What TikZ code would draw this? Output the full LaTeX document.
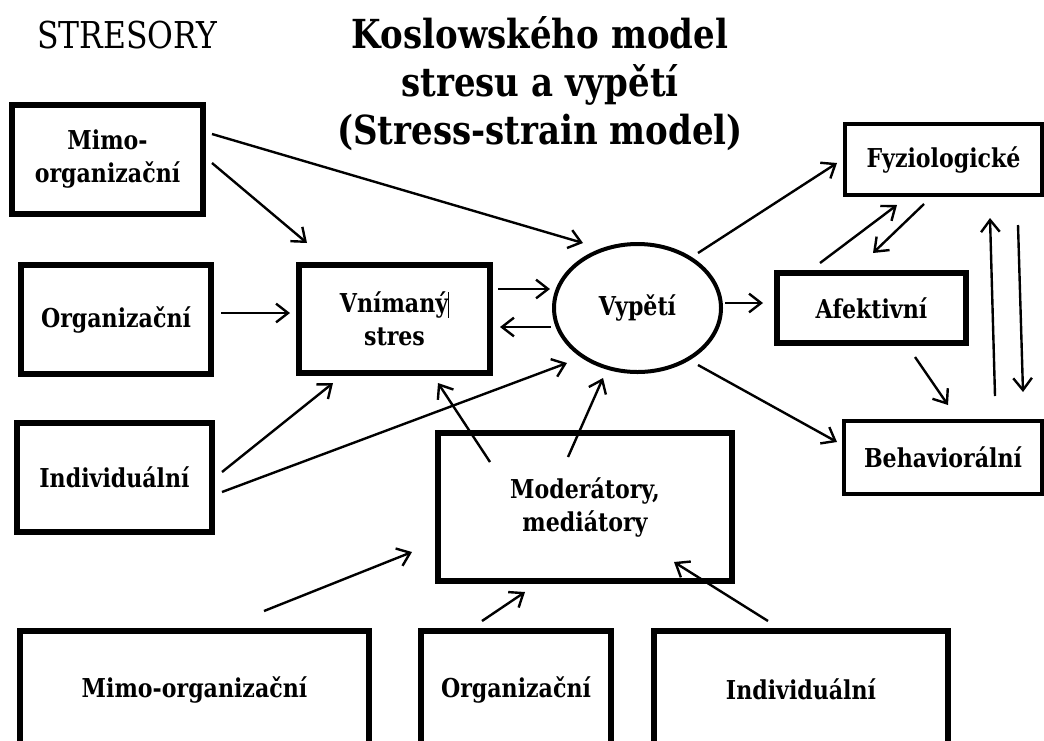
\documentclass[tikz,border=0pt]{standalone}
\usepackage{fontspec}
\setmainfont{DejaVu Serif}[FakeStretch=0.85]
\usetikzlibrary{positioning,arrows.meta,shapes.geometric}

\tikzset{
  box/.style={draw, rectangle, line width=4.5pt, outer sep=0pt, align=center,
    font=\bfseries\fontsize{19.5}{24.75}\selectfont},
  thinbox/.style={box, line width=3pt},
  arr/.style={->, line width=1.8pt},
  >={Straight Barb[length=9pt,width=14pt]}
}

\begin{document}
\begin{tikzpicture}[x=0.75pt, y=-0.75pt]
  \useasboundingbox (0,0) rectangle (1044,740);

  % titles
  \node[font=\fontsize{27.75}{30}\selectfont] (stresory) at (127,35) {STRESORY};
  \node[align=center, font=\bfseries\fontsize{30}{36}\selectfont] (title) at (540,84)
    {Koslowského model\\ stresu a vypětí\\ (Stress-strain model)};

  % stresory vlevo
  \node[box, minimum width=143.25pt, minimum height=81.75pt] (mimo1) at (107.5,159.5) {Mimo-\\organizační};
  \node[box, minimum width=142.5pt, minimum height=81.75pt] (org1) at (116,319.5) {Organizační};
  \node[box, minimum width=146.25pt, minimum height=81.75pt] (ind1) at (114.5,477.5) {Individuální};

  % stred
  \node[box, minimum width=143.25pt, minimum height=81pt] (vnim) at (394.5,319)
    {Vnímaný\rule[-0.2em]{0.6pt}{1em}\\stres};
  \node[box, ellipse, line width=3pt, inner sep=0pt, minimum width=125.25pt, minimum height=96pt] (vyp) at (637.5,308) {Vypětí};
  \node[box, minimum width=220.5pt, minimum height=111pt] (mod) at (585,507) {Moderátory,\\mediátory};

  % vypeti vpravo
  \node[thinbox, minimum width=147.75pt, minimum height=53.25pt] (fyz) at (943.5,159.5) {Fyziologické};
  \node[box, minimum width=141.75pt, minimum height=52.5pt] (afek) at (871.5,308) {Afektivní};
  \node[thinbox, minimum width=148.5pt, minimum height=54.75pt] (beh) at (943,457.5) {Behaviorální};

  % moderatory dole
  \node[box, minimum width=261.75pt, minimum height=87.75pt] (mimo2) at (194.5,689.5) {Mimo-organizační};
  \node[box, minimum width=142.5pt, minimum height=87.75pt] (org2) at (516,689.5) {Organizační};
  \node[box, minimum width=220.5pt, minimum height=87.75pt] (ind2) at (801,689.5) {Individuální};

  \path[arr]
    ([shift={(9,-25.5)}]mimo1.east) edge ([shift={(-54.5,-65)}]vyp.center)
    ([shift={(9,3.5)}]mimo1.east) edge ([shift={(8,-22)}]vnim.north west)
    ([shift={(10,-6.5)}]org1.east) edge ([shift={(-9,-6)}]vnim.west)
    ([shift={(10,-5.5)}]ind1.east) edge ([shift={(34,10)}]vnim.south west)
    ([shift={(10,14.5)}]ind1.east) edge ([shift={(-70.5,55)}]vyp.center)
    ([shift={(8,-30)}]vnim.east) edge ([shift={(-4,-19)}]vyp.west)
    ([shift={(-3,19)}]vyp.west) edge ([shift={(10,8)}]vnim.east)
    ([shift={(52,29)}]mod.north west) edge ([shift={(43.5,10)}]vnim.south)
    ([shift={(130,24)}]mod.north west) edge ([shift={(-34.5,70)}]vyp.center);

  \path[arr]
    ([shift={(60.5,-55)}]vyp.center) edge ([shift={(-8,3.5)}]fyz.west)
    ([shift={(4,-5)}]vyp.east) edge ([shift={(-14,-5)}]afek.west)
    ([shift={(60.5,57)}]vyp.center) edge ([shift={(-7,-15.5)}]beh.west)
    ([shift={(-51.5,-10)}]afek.north) edge ([shift={(-46.5,10)}]fyz.south)
    ([shift={(-19.5,9)}]fyz.south) edge ([shift={(1.5,-20)}]afek.north)
    ([shift={(43.5,14)}]afek.south) edge ([shift={(5,-16)}]beh.north)
    ([shift={(52,-25)}]beh.north) edge ([shift={(46.5,23)}]fyz.south)
    ([shift={(74.5,30)}]fyz.south) edge ([shift={(80,-29)}]beh.north);

  \path[arr]
    ([shift={(69.5,-20)}]mimo2.north) edge ([shift={(-26,-29)}]mod.south west)
    ([shift={(-34,-10)}]org2.north) edge ([shift={(-60,11)}]mod.south)
    ([shift={(-33,-10)}]ind2.north) edge ([shift={(-58,-19)}]mod.south east);
\end{tikzpicture}
\end{document}
